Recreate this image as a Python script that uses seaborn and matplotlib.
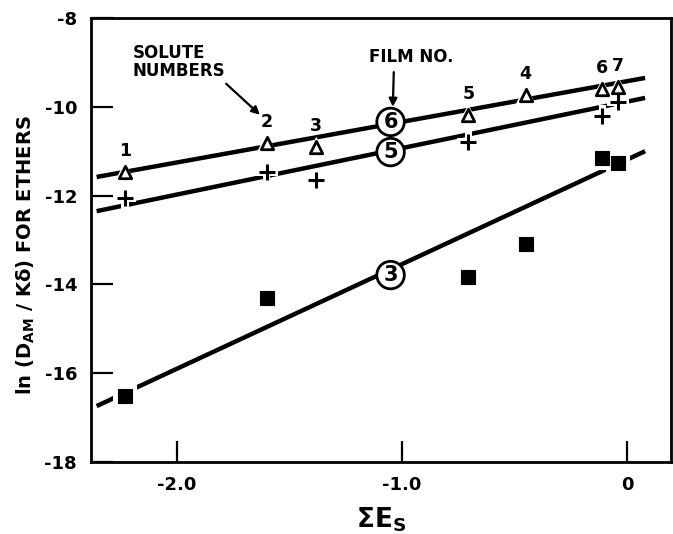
import numpy as np
import pandas as pd
import matplotlib
matplotlib.use("Agg")
import matplotlib.pyplot as plt
import seaborn as sns

# ---- data ----
solutes = ["1", "2", "3", "4", "5", "6", "7"]
sum_es = [-2.23, -1.60, -1.38, -0.45, -0.705, -0.11, -0.04]
film6 = [-11.47, -10.82, -10.91, -9.73, -10.18, -9.60, -9.55]
film5 = [-12.05, -11.47, -11.65, np.nan, -10.79, -10.21, -9.89]
film3 = [-16.51, -14.31, np.nan, -13.09, -13.83, -11.15, -11.27]

# fitted lines (end points)
fit_x = [-2.355, 0.08]
fit6 = [-11.58, -9.35]
fit5 = [-12.35, -9.80]
fit3 = [-16.74, -11.00]

film_names = ["6", "5", "3"]
xticks = [-2.0, -1.0, 0.0]
xticklabels = ["-2.0", "-1.0", "0"]
yticks = [-8, -10, -12, -14, -16, -18]
yticklabels = ["-8", "-10", "-12", "-14", "-16", "-18"]

sns.set_style("ticks")
plt.rcParams["font.family"] = ["DejaVu Sans"]
plt.rcParams["font.weight"] = "bold"
plt.rcParams["mathtext.default"] = "bf"
for k in ("text.color", "axes.edgecolor", "axes.labelcolor", "xtick.color", "ytick.color"):
    plt.rcParams[k] = "black"

df = pd.DataFrame({"es": sum_es, "f6": film6, "f5": film5, "f3": film3, "sol": solutes})

fig = plt.figure(figsize=(6.73, 5.34), dpi=100)
ax = fig.add_axes([91 / 673, 72 / 534, 580 / 673, 444 / 534])

LW = 3.2
for fy in (fit6, fit5, fit3):
    sns.lineplot(x=fit_x, y=fy, color="black", lw=LW, ax=ax, zorder=2,
                 solid_capstyle="butt")

# white halos to create the gaps in the lines around markers
for col, m, s in (("f6", "^", 230), ("f5", "P", 260), ("f3", "s", 300)):
    sub = df.dropna(subset=[col])
    sns.scatterplot(data=sub, x="es", y=col, marker=m, s=s, color="white",
                    edgecolor="none", ax=ax, zorder=3, legend=False)

sns.scatterplot(data=df, x="es", y="f6", marker="^", s=80, facecolor="white",
                edgecolor="black", linewidth=2, ax=ax, zorder=4, legend=False)
sns.scatterplot(data=df.dropna(subset=["f5"]), x="es", y="f5", marker="+", s=130,
                color="black", linewidth=2.2, ax=ax, zorder=4, legend=False)
sns.scatterplot(data=df.dropna(subset=["f3"]), x="es", y="f3", marker="s", s=100,
                color="black", edgecolor="black", ax=ax, zorder=4, legend=False)

# solute numbers above triangles
for x, y, lab in zip(sum_es, film6, solutes):
    ax.annotate(lab, (x, y), xytext=(0, 15), textcoords="offset points",
                ha="center", va="center", fontsize=12.5, fontweight="bold")

# film number circles
film_label_x = -1.05
for lab, y in zip(film_names, [-10.34, -11.02, -13.79]):
    ax.text(film_label_x, y, lab, ha="center", va="center", fontsize=15,
            fontweight="bold", zorder=6,
            bbox=dict(boxstyle="circle,pad=0.18", fc="white", ec="black", lw=2))

ax.annotate("SOLUTE\nNUMBERS", xy=(-1.63, -10.18), xytext=(-2.195, -9.0),
            ha="left", va="center", fontsize=12, fontweight="bold",
            linespacing=1.0,
            arrowprops=dict(arrowstyle="-|>", color="black", lw=1.6,
                            shrinkA=0, shrinkB=0, mutation_scale=12,
                            relpos=(0.97, 0.0)))
ax.annotate("FILM NO.", xy=(-1.04, -10.0), xytext=(-0.96, -8.88),
            ha="center", va="center", fontsize=12, fontweight="bold",
            arrowprops=dict(arrowstyle="-|>", color="black", lw=1.6,
                            shrinkA=2, shrinkB=0, mutation_scale=12,
                            relpos=(0.3, 0.0)))

ax.set_xlim(-2.38, 0.195)
ax.set_ylim(-18, -8)
ax.set_xticks(xticks)
ax.set_xticklabels(xticklabels)
ax.set_yticks(yticks)
ax.set_yticklabels(yticklabels)
ax.tick_params(axis="both", direction="in", width=1.6, labelsize=13, pad=10)
ax.tick_params(axis="y", length=16)
ax.tick_params(axis="x", length=15)
for t in ax.get_xticklabels() + ax.get_yticklabels():
    t.set_fontweight("bold")
for sp in ax.spines.values():
    sp.set_linewidth(2.0)
    sp.set_visible(True)

ax.set_xlabel(r"$\Sigma$E$_S$", fontsize=19, fontweight="bold", labelpad=8)
ax.set_ylabel(r"ln (D$_{AM}$ / Kδ) FOR ETHERS", fontsize=14, fontweight="bold")
ax.yaxis.set_label_coords(-0.093, 0.466)

fig.savefig("out.png", dpi=100)
